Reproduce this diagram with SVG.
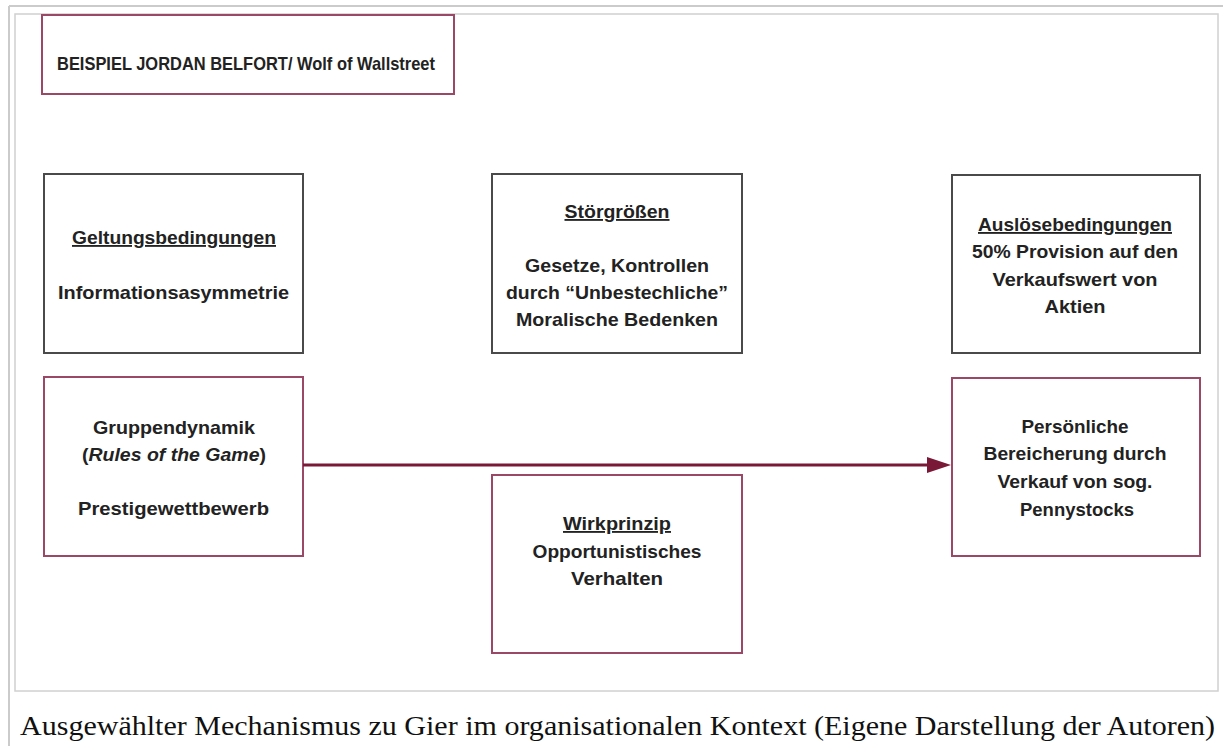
<svg xmlns="http://www.w3.org/2000/svg" width="1223" height="746" viewBox="0 0 1223 746">
  <style>
    .frame { fill: none; stroke: #cbcbcb; stroke-width: 2; }
    .inner { fill: none; stroke: #d0d0d0; stroke-width: 1.5; }
    .gbox { fill: #ffffff; stroke: #4a4a4a; stroke-width: 2; }
    .pbox { fill: #ffffff; stroke: #9b4766; stroke-width: 2; }
    .t { font-family: "Liberation Sans", Arial, sans-serif; font-weight: bold; font-size: 18.5px; fill: #222222; text-anchor: middle; }
    .u { text-decoration: underline; }
    .i { font-style: italic; }
    .cap { font-family: "Liberation Serif", "Times New Roman", serif; font-size: 27px; fill: #111111; }
    .conn { stroke: #7a1838; stroke-width: 3; fill: none; }
  </style>
  <rect x="0" y="0" width="1223" height="746" fill="#ffffff"/>
  <line class="frame" x1="9" y1="6" x2="1223" y2="6"/>
  <line class="frame" x1="9" y1="6" x2="9" y2="746"/>
  <rect class="inner" x="15" y="14" width="1203" height="677"/>

  <g id="title">
    <rect class="pbox" x="42" y="15" width="412" height="79"/>
    <text class="t" x="246" y="70" textLength="378" lengthAdjust="spacingAndGlyphs">BEISPIEL JORDAN BELFORT/ Wolf of Wallstreet</text>
  </g>

  <g id="geltungsbedingungen">
    <rect class="gbox" x="44" y="174" width="259" height="179"/>
    <text class="t u" x="174" y="244" textLength="204" lengthAdjust="spacingAndGlyphs">Geltungsbedingungen</text>
    <text class="t" x="173.5" y="299" textLength="231" lengthAdjust="spacingAndGlyphs">Informationsasymmetrie</text>
  </g>

  <g id="stoergroessen">
    <rect class="gbox" x="492" y="174" width="250" height="179"/>
    <text class="t u" x="617" y="218" textLength="105" lengthAdjust="spacingAndGlyphs">Störgrößen</text>
    <text class="t" x="617" y="272" textLength="184" lengthAdjust="spacingAndGlyphs">Gesetze, Kontrollen</text>
    <text class="t" x="617" y="299" textLength="222" lengthAdjust="spacingAndGlyphs">durch “Unbestechliche”</text>
    <text class="t" x="617" y="326" textLength="202" lengthAdjust="spacingAndGlyphs">Moralische Bedenken</text>
  </g>

  <g id="ausloesebedingungen">
    <rect class="gbox" x="952" y="175" width="248" height="178"/>
    <text class="t u" x="1075" y="231" textLength="194" lengthAdjust="spacingAndGlyphs">Auslösebedingungen</text>
    <text class="t" x="1075" y="258" textLength="206" lengthAdjust="spacingAndGlyphs">50% Provision auf den</text>
    <text class="t" x="1075" y="286" textLength="165" lengthAdjust="spacingAndGlyphs">Verkaufswert von</text>
    <text class="t" x="1075" y="313" textLength="61" lengthAdjust="spacingAndGlyphs">Aktien</text>
  </g>

  <g id="gruppendynamik">
    <rect class="pbox" x="44" y="377" width="259" height="179"/>
    <text class="t" x="174" y="434" textLength="162" lengthAdjust="spacingAndGlyphs">Gruppendynamik</text>
    <text class="t" x="174" y="461" textLength="184" lengthAdjust="spacingAndGlyphs">(<tspan class="i">Rules of the Game</tspan>)</text>
    <text class="t" x="173.5" y="515" textLength="191" lengthAdjust="spacingAndGlyphs">Prestigewettbewerb</text>
  </g>

  <g id="wirkprinzip">
    <rect class="pbox" x="492" y="475" width="250" height="178"/>
    <text class="t u" x="617" y="530" textLength="108" lengthAdjust="spacingAndGlyphs">Wirkprinzip</text>
    <text class="t" x="617" y="558" textLength="169" lengthAdjust="spacingAndGlyphs">Opportunistisches</text>
    <text class="t" x="617" y="585" textLength="92" lengthAdjust="spacingAndGlyphs">Verhalten</text>
  </g>

  <g id="bereicherung">
    <rect class="pbox" x="952" y="378" width="248" height="178"/>
    <text class="t" x="1075" y="433" textLength="107" lengthAdjust="spacingAndGlyphs">Persönliche</text>
    <text class="t" x="1075" y="460" textLength="183" lengthAdjust="spacingAndGlyphs">Bereicherung durch</text>
    <text class="t" x="1075" y="488" textLength="155" lengthAdjust="spacingAndGlyphs">Verkauf von sog.</text>
    <text class="t" x="1077" y="516" textLength="114" lengthAdjust="spacingAndGlyphs">Pennystocks</text>
  </g>

  <g id="connectors">
    <line class="conn" x1="303" y1="465" x2="932" y2="465"/>
    <polygon points="927,457 951,465 927,473" fill="#7a1838"/>
  </g>

  <text class="cap" x="20" y="735" textLength="1195" lengthAdjust="spacingAndGlyphs">Ausgewählter Mechanismus zu Gier im organisationalen Kontext (Eigene Darstellung der Autoren)</text>
</svg>
